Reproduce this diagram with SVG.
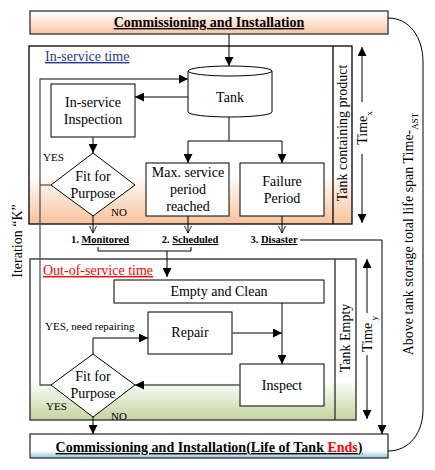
<svg xmlns="http://www.w3.org/2000/svg" width="435" height="470" viewBox="0 0 435 470" font-family="'Liberation Serif', 'DejaVu Serif', serif">
<style>
text{font-family:'Liberation Serif','DejaVu Serif',serif;fill:#000}
.t14{font-size:14px}
.b14{font-size:14px;font-weight:bold}
.s11{font-size:11px}
.lbl{font-size:10.5px;font-weight:bold}
.u{text-decoration:underline}
.mid{text-anchor:middle}
.box{fill:#fff;stroke:#000;stroke-width:1}
.frame{stroke:#444;stroke-width:1.5}
.ln{fill:none;stroke:#000;stroke-width:1}
.gl{fill:none;stroke:#555;stroke-width:1.3}
</style>
<defs>
<linearGradient id="gTop" x1="0" y1="0" x2="0" y2="1"><stop offset="0" stop-color="#fff"/><stop offset="1" stop-color="#f8c7a4"/></linearGradient>
<linearGradient id="gIn" x1="0" y1="0" x2="0" y2="1"><stop offset="0" stop-color="#fff"/><stop offset="0.72" stop-color="#fff"/><stop offset="1" stop-color="#f7c29c"/></linearGradient>
<linearGradient id="gOut" x1="0" y1="0" x2="0" y2="1"><stop offset="0" stop-color="#fff"/><stop offset="0.75" stop-color="#fff"/><stop offset="1" stop-color="#c3d49f"/></linearGradient>
<linearGradient id="gBot" x1="0" y1="0" x2="0" y2="1"><stop offset="0" stop-color="#fff"/><stop offset="0.7" stop-color="#fff"/><stop offset="1" stop-color="#8cc6d8"/></linearGradient>
<marker id="ah" viewBox="0 0 10 10" refX="10" refY="5" markerWidth="9" markerHeight="9" markerUnits="userSpaceOnUse" orient="auto"><path d="M0,0 L10,5 L0,10 z" fill="#000"/></marker>
<marker id="ao" viewBox="0 0 10 10" refX="10" refY="5" markerWidth="7" markerHeight="9" markerUnits="userSpaceOnUse" orient="auto"><path d="M0,0 L10,5 L0,10" fill="none" stroke="#000" stroke-width="1.2"/></marker>
</defs>

<!-- Frames -->
<g id="inservice-frame">
<rect x="29" y="46" width="323" height="178" fill="url(#gIn)" stroke="#000" stroke-width="1.3"/>
<line x1="333" y1="46" x2="333" y2="224" stroke="#000" stroke-width="1.3"/>
<text class="t14 u" x="45" y="61" style="fill:#1f3a93">In-service time</text>
<text class="t14 mid" transform="translate(347,133) rotate(-90)">Tank containing product</text>
</g>
<g id="outservice-frame">
<rect x="30" y="259" width="326" height="161" fill="url(#gOut)" class="frame"/>
<line x1="335" y1="259" x2="335" y2="420" class="frame"/>
<text class="t14 u" x="43" y="275" style="fill:#ff0000">Out-of-service time</text>
<text class="t14 mid" transform="translate(350,338) rotate(-90)">Tank Empty</text>
</g>

<!-- Nodes -->
<g id="commissioning-top">
<rect x="30" y="11" width="358" height="23" fill="url(#gTop)" stroke="#333" stroke-width="1.3"/>
<text class="b14 mid u" x="209" y="27">Commissioning and Installation</text>
</g>
<g id="tank">
<path d="M188,71 L188,112 A42,5 0 0 0 272,112 L272,71" fill="#fff" stroke="#000"/>
<ellipse cx="230" cy="71" rx="42" ry="5" fill="#fff" stroke="#000"/>
<text class="t14 mid" x="230" y="102">Tank</text>
</g>
<g id="inservice-inspection">
<rect x="51" y="84" width="84" height="53" class="box"/>
<text class="t14 mid" x="93" y="107">In-service</text>
<text class="t14 mid" x="93" y="124">Inspection</text>
</g>
<g id="fit-purpose-1">
<polygon points="93,153 135,185 93,216 51,185" class="box"/>
<text class="t14 mid" x="93" y="181">Fit for</text>
<text class="t14 mid" x="93" y="198">Purpose</text>
</g>
<g id="max-service">
<rect x="146" y="163" width="83" height="53" class="box"/>
<text class="t14 mid" x="188" y="177">Max. service</text>
<text class="t14 mid" x="188" y="194">period</text>
<text class="t14 mid" x="188" y="211">reached</text>
</g>
<g id="failure-period">
<rect x="240" y="163" width="84" height="53" class="box"/>
<text class="t14 mid" x="282" y="186">Failure</text>
<text class="t14 mid" x="282" y="203">Period</text>
</g>
<g id="empty-clean">
<rect x="114" y="280" width="210" height="23" class="box"/>
<text class="t14 mid" x="219" y="296">Empty and Clean</text>
</g>
<g id="repair">
<rect x="148" y="312" width="84" height="42" class="box"/>
<text class="t14 mid" x="190" y="337">Repair</text>
</g>
<g id="inspect">
<rect x="240" y="364" width="84" height="42" class="box"/>
<text class="t14 mid" x="282" y="390">Inspect</text>
</g>
<g id="fit-purpose-2">
<polygon points="93,354 135,385 93,417 51,385" class="box"/>
<text class="t14 mid" x="93" y="381">Fit for</text>
<text class="t14 mid" x="93" y="398">Purpose</text>
</g>
<g id="commissioning-bottom">
<rect x="30" y="434" width="358" height="24" fill="url(#gBot)" stroke="#333" stroke-width="1.3"/>
<text class="b14 mid u" x="209" y="452">Commissioning and Installation(Life of Tank <tspan style="fill:#ff0000">Ends</tspan>)</text>
</g>

<!-- Connectors -->
<g id="connectors">
<line x1="229" y1="34" x2="229" y2="66" class="ln" marker-end="url(#ah)"/>
<line x1="188" y1="97" x2="135" y2="97" class="ln" marker-end="url(#ah)"/>
<line x1="93" y1="137" x2="93" y2="153" class="ln" marker-end="url(#ah)"/>
<polyline points="229,117 229,141 188,141 188,163" class="ln" marker-end="url(#ah)"/>
<polyline points="229,141 282,141 282,163" class="ln" marker-end="url(#ah)"/>
<polyline points="51,185 40,185" class="gl"/>
<polyline points="51,385 40,385 40,79 188,79" class="gl" marker-end="url(#ah)"/>
<line x1="93" y1="216" x2="93" y2="233" class="ln" marker-end="url(#ao)"/>
<line x1="188" y1="216" x2="188" y2="233" class="ln" marker-end="url(#ao)"/>
<line x1="282" y1="216" x2="282" y2="233" class="ln" marker-end="url(#ao)"/>
<polyline points="98,247 98,251 191,251 191,247" class="ln"/>
<line x1="167" y1="251" x2="167" y2="277" class="ln" marker-end="url(#ah)"/>
<polyline points="300,240 382,240 382,434" class="ln" marker-end="url(#ah)"/>
<line x1="282" y1="303" x2="282" y2="364" class="ln" marker-end="url(#ah)"/>
<line x1="232" y1="333" x2="282" y2="333" class="gl" marker-end="url(#ah)"/>
<line x1="240" y1="385" x2="135" y2="385" class="gl" marker-end="url(#ah)"/>
<polyline points="93,354 93,338 148,338" class="ln" marker-end="url(#ah)"/>
<line x1="93" y1="417" x2="93" y2="434" class="ln" marker-end="url(#ah)"/>
<path d="M388,18 C410,18 423,38 423,62 L423,410 C423,432 410,451 388,451" class="ln"/>
<line x1="362" y1="102" x2="362" y2="47" class="ln" marker-end="url(#ah)"/>
<line x1="362" y1="154" x2="362" y2="223" class="ln" marker-end="url(#ah)"/>
<line x1="367" y1="313" x2="367" y2="259" class="ln" marker-end="url(#ah)"/>
<line x1="367" y1="355" x2="367" y2="419" class="ln" marker-end="url(#ah)"/>
</g>

<g id="labels">
<text class="s11" x="43" y="161">YES</text>
<text class="s11" x="111" y="216">NO</text>
<text class="lbl mid" x="100" y="243">1. <tspan class="u">Monitored</tspan></text>
<text class="lbl mid" x="190" y="243">2. <tspan class="u">Scheduled</tspan></text>
<text class="lbl mid" x="274" y="243">3. <tspan class="u">Disaster</tspan></text>
<text class="s11" x="45" y="330">YES, need repairing</text>
<text class="s11" x="46" y="410">YES</text>
<text class="s11" x="111" y="420">NO</text>
<text class="t14 mid" transform="translate(367,128) rotate(-90)">Time<tspan font-size="9" baseline-shift="sub">x</tspan></text>
<text class="t14 mid" transform="translate(372,334) rotate(-90)">Time<tspan font-size="9" baseline-shift="sub"> y</tspan></text>
<text class="t14 mid" transform="translate(22,241) rotate(-90)">Iteration “K”</text>
<text class="t14 mid" transform="translate(413,234) rotate(-90)">Above tank storage total life span Time-<tspan font-size="9" baseline-shift="sub">AST</tspan></text>
</g>
</svg>
